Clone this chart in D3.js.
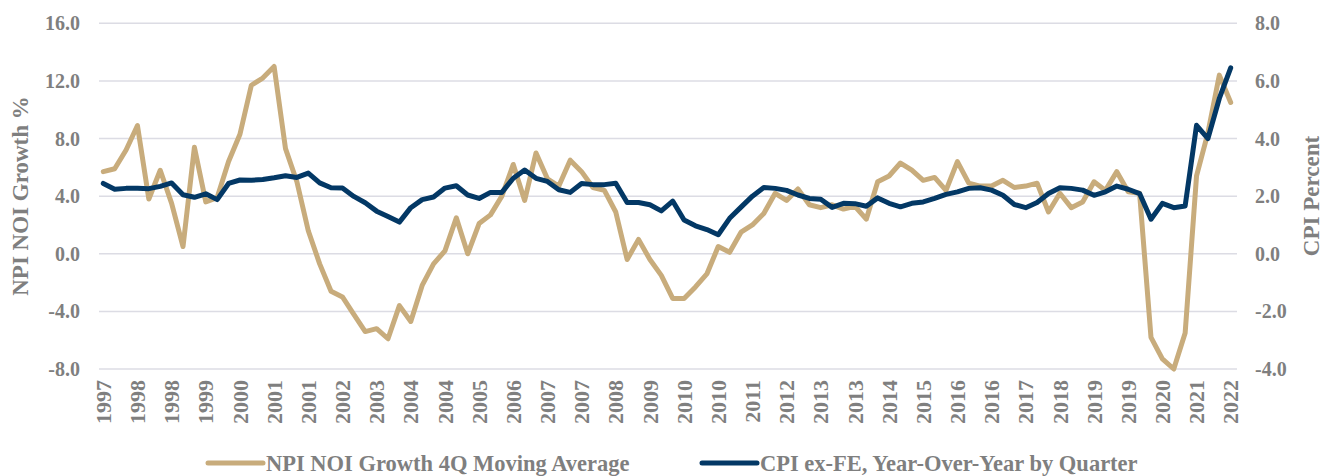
<!DOCTYPE html>
<html lang="en">
<head>
    <meta charset="UTF-8">
    <script src="https://d3js.org/d3.v7.min.js"></script>
    <title>NPI NOI Growth vs CPI</title>
    <style>
        body { margin: 0; background: #fff; }
        svg text { font-family: "Liberation Serif", "Times New Roman", serif; font-weight: bold; fill: #7f7f7f; }
    </style>
</head>
<body>
<div id="chart"></div>
<script>
    // quarterly series, 1997Q2 .. 2022Q1
    const startYear = 1997, startQuarter = 2;
    const noiGrowth = [
        5.7, 5.9, 7.2, 8.9, 3.8, 5.8, 3.5, 0.5, 7.4, 3.6,
        3.9, 6.4, 8.3, 11.7, 12.2, 13.0, 7.3, 5.0, 1.6, -0.7,
        -2.6, -3.0, -4.2, -5.4, -5.2, -5.9, -3.6, -4.7, -2.2, -0.7,
        0.2, 2.5, 0.0, 2.1, 2.7, 4.0, 6.2, 3.7, 7.0, 5.2,
        4.7, 6.5, 5.7, 4.6, 4.4, 2.9, -0.4, 1.0, -0.4, -1.5,
        -3.1, -3.1, -2.3, -1.4, 0.5, 0.1, 1.5, 2.0, 2.8, 4.2,
        3.7, 4.5, 3.4, 3.2, 3.4, 3.1, 3.3, 2.4, 5.0, 5.4,
        6.3, 5.8, 5.1, 5.3, 4.4, 6.4, 4.9, 4.7, 4.7, 5.1,
        4.6, 4.7, 4.9, 2.9, 4.2, 3.2, 3.6, 5.0, 4.4, 5.7,
        4.3, 4.2, -5.8, -7.3, -8.0, -5.5, 5.4, 8.4, 12.4, 10.5
    ];
    const cpiCore = [
        2.44, 2.24, 2.27, 2.27, 2.26, 2.34, 2.46, 2.05, 1.96, 2.08,
        1.88, 2.44, 2.56, 2.55, 2.58, 2.64, 2.71, 2.65, 2.80, 2.46,
        2.29, 2.28, 1.99, 1.77, 1.48, 1.29, 1.10, 1.60, 1.88, 1.97,
        2.28, 2.36, 2.04, 1.92, 2.13, 2.13, 2.62, 2.91, 2.62, 2.51,
        2.22, 2.13, 2.44, 2.40, 2.40, 2.45, 1.78, 1.78, 1.70, 1.49,
        1.83, 1.17, 0.97, 0.84, 0.66, 1.23, 1.62, 2.00, 2.30, 2.27,
        2.20, 2.04, 1.92, 1.89, 1.61, 1.75, 1.74, 1.65, 1.94, 1.75,
        1.63, 1.75, 1.80, 1.92, 2.06, 2.15, 2.27, 2.29, 2.21, 2.03,
        1.71, 1.60, 1.78, 2.09, 2.29, 2.27, 2.21, 2.03, 2.15, 2.35,
        2.24, 2.09, 1.20, 1.75, 1.60, 1.66, 4.46, 4.00, 5.39, 6.45
    ];
    // every third quarter gets a label
    const xTickLabels = [
        "1997", "1998", "1998", "1999", "2000", "2001", "2001", "2002", "2003", "2004",
        "2004", "2005", "2006", "2007", "2007", "2008", "2009", "2010", "2010", "2011",
        "2012", "2013", "2013", "2014", "2015", "2016", "2016", "2017", "2018", "2019",
        "2019", "2020", "2021", "2022"
    ];
    const leftTicks = [-8, -4, 0, 4, 8, 12, 16];
    const rightTicks = [-4, -2, 0, 2, 4, 6, 8];
    const seriesNames = ["NPI NOI Growth 4Q Moving Average", "CPI ex-FE, Year-Over-Year by Quarter"];
    const seriesColors = ["#c8ac7c", "#033865"];

    const quarters = noiGrowth.map((d, i) => {
        const q = startQuarter - 1 + i;
        return (startYear + Math.floor(q / 4)) + "Q" + (q % 4 + 1);
    });

    const width = 1328, height = 476;
    const svg = d3.select("#chart").append("svg")
        .attr("width", width).attr("height", height);

    const x = d3.scalePoint().domain(quarters).range([103.3, 1230.7]);
    const yLeft = d3.scaleLinear().domain([-8, 16]).range([369, 23.3]);
    const yRight = d3.scaleLinear().domain([-4, 8]).range([369, 23.3]);

    // gridlines
    svg.append("g").selectAll("line")
        .data(leftTicks)
        .enter().append("line")
        .attr("x1", 99).attr("x2", 1237)
        .attr("y1", d => yLeft(d)).attr("y2", d => yLeft(d))
        .attr("stroke", "#dcdce4").attr("stroke-width", 1.5);

    // left axis labels
    svg.append("g").selectAll("text")
        .data(leftTicks)
        .enter().append("text")
        .attr("x", 80).attr("y", d => yLeft(d))
        .attr("dy", "0.35em")
        .attr("text-anchor", "end")
        .style("font-size", "20px")
        .text(d => d.toFixed(1));

    // right axis labels
    svg.append("g").selectAll("text")
        .data(rightTicks)
        .enter().append("text")
        .attr("x", 1255).attr("y", d => yRight(d))
        .attr("dy", "0.35em")
        .style("font-size", "20px")
        .text(d => d.toFixed(1));

    // x labels, rotated
    svg.append("g").selectAll("text")
        .data(xTickLabels)
        .enter().append("text")
        .attr("transform", (d, i) => `translate(${x(quarters[i * 3])},380) rotate(-90)`)
        .attr("dy", "0.35em")
        .attr("text-anchor", "end")
        .style("font-size", "22px")
        .text(d => d);

    // axis titles
    svg.append("text")
        .attr("transform", "translate(20,196) rotate(-90)")
        .attr("dy", "0.35em")
        .attr("text-anchor", "middle")
        .style("font-size", "23px")
        .text("NPI NOI Growth %");

    svg.append("text")
        .attr("transform", "translate(1311,196) rotate(-90)")
        .attr("dy", "0.35em")
        .attr("text-anchor", "middle")
        .style("font-size", "23px")
        .text("CPI Percent");

    // lines
    const lineLeft = d3.line().x((d, i) => x(quarters[i])).y(d => yLeft(d));
    const lineRight = d3.line().x((d, i) => x(quarters[i])).y(d => yRight(d));

    svg.append("path")
        .datum(noiGrowth)
        .attr("d", lineLeft)
        .attr("fill", "none")
        .attr("stroke", seriesColors[0])
        .attr("stroke-width", 5)
        .attr("stroke-linejoin", "round")
        .attr("stroke-linecap", "round");

    svg.append("path")
        .datum(cpiCore)
        .attr("d", lineRight)
        .attr("fill", "none")
        .attr("stroke", seriesColors[1])
        .attr("stroke-width", 5)
        .attr("stroke-linejoin", "round")
        .attr("stroke-linecap", "round");

    // legend
    const legendX = [208, 702];
    const legend = svg.append("g").selectAll("g")
        .data(seriesNames)
        .enter().append("g")
        .attr("transform", (d, i) => `translate(${legendX[i]},463)`);

    legend.append("line")
        .attr("x1", 0).attr("x2", 55)
        .attr("stroke", (d, i) => seriesColors[i])
        .attr("stroke-width", 5)
        .attr("stroke-linecap", "round");

    legend.append("text")
        .attr("x", 58)
        .attr("dy", "0.35em")
        .style("font-size", "22.5px")
        .text(d => d);
</script>
</body>
</html>
